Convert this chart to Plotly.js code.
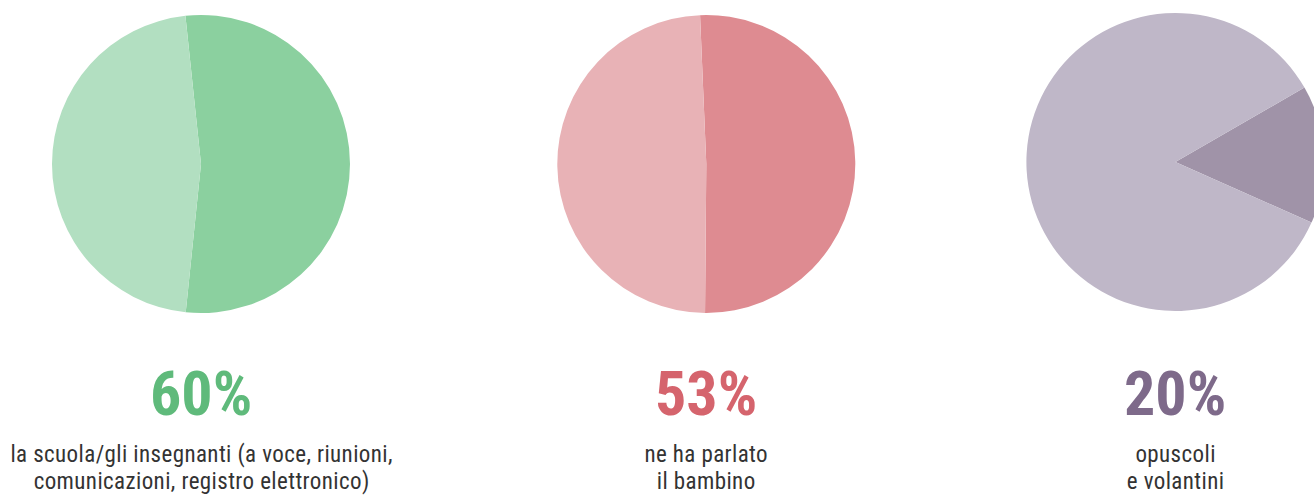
<!DOCTYPE html>
<html>
<head>
<meta charset="utf-8">
<script src="https://cdn.plot.ly/plotly-3.0.1.min.js"></script>
<style>
html, body { margin: 0; padding: 0; overflow: hidden; background: #fff; }
#chart { width: 1340px; height: 495px; }
.annotation-text { font-stretch: 85%; }
</style>
</head>
<body>
<div id="chart"></div>
<script>
// Data
const percentLabels = ["60%", "53%", "20%"];
const captionLine1 = ["la scuola/gli insegnanti (a voce, riunioni,", "ne ha parlato", "opuscoli"];
const captionLine2 = ["comunicazioni, registro elettronico)", "il bambino", "e volantini"];
const sliceNames = ["sì", "altro"];
const pie1Values = [53.3, 46.7];
const pie2Values = [50.8, 49.2];
const pie3Values = [15, 85];
const rotations = [-6, -2.4, 60];

const sliceColors = [["#8bd09f", "#b2dfc1"], ["#de8b91", "#e8b2b6"], ["#a093a8", "#bfb7c8"]];
const textColors = ["#5fba7b", "#d5646d", "#7e6a8a"];

const W = 1340, H = 495;
// pie boxes in px: [cx, cy, r]
const boxes = [[201, 164, 149], [706.3, 164, 149], [1175.4, 162, 149]];
const allValues = [pie1Values, pie2Values, pie3Values];

const traces = allValues.map((vals, i) => {
  const [cx, cy, r] = boxes[i];
  return {
    type: 'pie',
    labels: sliceNames,
    values: vals,
    sort: false,
    direction: 'clockwise',
    rotation: rotations[i],
    textinfo: 'none',
    hoverinfo: 'label+percent',
    marker: { colors: sliceColors[i], line: { width: 0 } },
    domain: {
      x: [(cx - r) / W, (cx + r) / W],
      y: [(H - (cy + r)) / H, (H - (cy - r)) / H]
    },
    showlegend: false
  };
});

const annotations = [];
boxes.forEach((b, i) => {
  annotations.push({
    xref: 'paper', yref: 'paper',
    x: b[0] / W, y: (H - 393) / H,
    xanchor: 'center', yanchor: 'middle',
    text: '<b>' + percentLabels[i] + '</b>',
    showarrow: false,
    font: { family: 'Roboto, sans-serif', size: 62, color: textColors[i] }
  });
  annotations.push({
    xref: 'paper', yref: 'paper',
    x: b[0] / W, y: (H - 469) / H,
    xanchor: 'center', yanchor: 'middle',
    text: captionLine1[i] + '<br>' + captionLine2[i],
    showarrow: false,
    font: { family: 'Roboto, sans-serif', size: 23, color: '#333333' }
  });
});

const gd = document.getElementById('chart');
function tightenLines() {
  gd.querySelectorAll('.annotation-text').forEach(t => {
    const lines = t.querySelectorAll('tspan.line');
    if (lines.length > 1) {
      t.style.letterSpacing = '0.4px';
      lines.forEach((ln, k) => { if (k > 0) ln.setAttribute('dy', (k * 1.18) + 'em'); });
    }
  });
}
Plotly.newPlot(gd, traces, {
  width: W, height: H,
  margin: { l: 0, r: 0, t: 0, b: 0 },
  paper_bgcolor: '#ffffff',
  annotations: annotations
}, { displayModeBar: false }).then(() => {
  tightenLines();
  gd.on('plotly_afterplot', tightenLines);
});
</script>
</body>
</html>
